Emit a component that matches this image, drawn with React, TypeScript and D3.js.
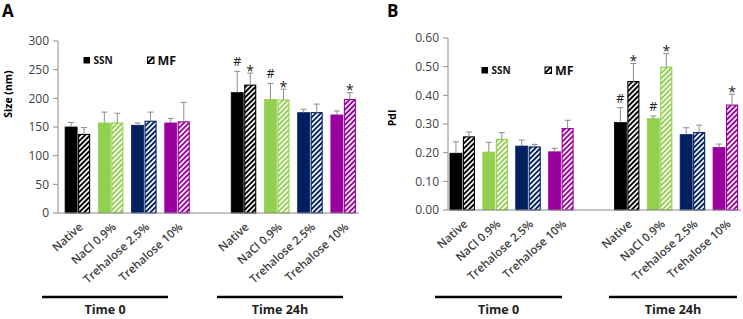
import React from "react";
import * as d3 from "d3";

const categories = ["Native", "NaCl 0.9%", "Trehalose 2.5%", "Trehalose 10%"];
const times = ["Time 0", "Time 24h"];
const colors = ["#000000", "#92D050", "#002060", "#9A009E"];

const sizeSSN = [150, 157, 153, 157, 210, 198, 175, 171];
const sizeSSNErr = [8, 19, 4, 8, 37, 28, 6, 7];
const sizeMF = [137, 157, 160, 159, 223, 197, 175, 198];
const sizeMFErr = [12, 17, 16, 34, 21, 19, 15, 12];
const sizeSSNMarks = ["", "", "", "", "#", "#", "", ""];
const sizeMFMarks = ["", "", "", "", "*", "*", "", "*"];
const sizeTicks = [0, 50, 100, 150, 200, 250, 300];

const pdiSSN = [0.198, 0.202, 0.223, 0.203, 0.305, 0.319, 0.263, 0.218];
const pdiSSNErr = [0.04, 0.034, 0.021, 0.012, 0.052, 0.009, 0.024, 0.012];
const pdiMF = [0.255, 0.246, 0.22, 0.284, 0.448, 0.498, 0.27, 0.366];
const pdiMFErr = [0.017, 0.024, 0.009, 0.029, 0.063, 0.047, 0.026, 0.038];
const pdiSSNMarks = ["", "", "", "", "#", "#", "", ""];
const pdiMFMarks = ["", "", "", "", "*", "*", "", "*"];
const pdiTicks = [0, 0.1, 0.2, 0.3, 0.4, 0.5, 0.6];

const FONT = "'Open Sans', 'Liberation Sans', sans-serif";
const TXT = "#404040";
const AXIS = "#8c8c8c";

type PanelProps = {
  id: string;
  letter: string;
  letterX: number;
  ylabel: string;
  ylabelX: number;
  ylabelY: number;
  axisX: number;
  bandStart: number;
  bandEnd: number;
  axisEnd: number;
  yTop: number;
  yBottom: number;
  ticks: number[];
  fmt: (v: number) => string;
  ssn: number[];
  ssnErr: number[];
  mf: number[];
  mfErr: number[];
  ssnMarks: string[];
  mfMarks: string[];
  legendX: number;
  legendMFX: number;
  legendY: number;
  lines: [number, number][];
};

function Panel(p: PanelProps) {
  const slots = d3.range(9).map(String);
  const x = d3.scaleBand<string>().domain(slots).range([p.bandStart, p.bandEnd]).padding(0);
  const y = d3
    .scaleLinear()
    .domain([p.ticks[0], p.ticks[p.ticks.length - 1]])
    .range([p.yBottom, p.yTop]);
  const slotOf = (i: number) => String(i < 4 ? i : i + 1);
  const bw = 12;
  const items = d3.range(8);
  return (
    <g>
      <text x={p.letterX} y={17} fontFamily={FONT} fontWeight={700} fontSize={17} fill="#000">
        {p.letter}
      </text>
      <text
        transform={`translate(${p.ylabelX},${p.ylabelY}) rotate(-90)`}
        textAnchor="middle"
        fontFamily={FONT}
        fontWeight={700}
        fontSize={10.5}
        fill="#000"
      >
        {p.ylabel}
      </text>
      {/* y axis */}
      <line x1={p.axisX} x2={p.axisX} y1={p.yTop} y2={p.yBottom} stroke={AXIS} strokeWidth={1} />
      {p.ticks.map((t) => (
        <g key={t}>
          <line x1={p.axisX - 5} x2={p.axisX} y1={y(t)} y2={y(t)} stroke={AXIS} strokeWidth={1} />
          <text
            x={p.axisX - 9}
            y={y(t)}
            dy="0.36em"
            textAnchor="end"
            fontFamily={FONT}
            fontSize={12}
            fill={TXT}
          >
            {p.fmt(t)}
          </text>
        </g>
      ))}
      {/* bars */}
      {items.map((i) => {
        const c = x(slotOf(i))! + x.bandwidth() / 2;
        const col = colors[i % 4];
        const x1 = c - bw - 0.5;
        const x2 = c + 0.5;
        const ySSN = y(p.ssn[i]);
        const yMF = y(p.mf[i]);
        const eSSN = y(p.ssn[i] + p.ssnErr[i]);
        const eMF = y(p.mf[i] + p.mfErr[i]);
        return (
          <g key={i}>
            <rect x={x1} y={ySSN} width={bw} height={p.yBottom - ySSN} fill={col} stroke={col} strokeWidth={0.8} />
            <rect
              x={x2 + 0.5}
              y={yMF}
              width={bw - 1}
              height={p.yBottom - yMF}
              fill={`url(#${p.id}-hatch-${i % 4})`}
              stroke={col}
              strokeWidth={1.1}
            />
            <line x1={x1 + bw / 2} x2={x1 + bw / 2} y1={ySSN} y2={eSSN} stroke={AXIS} strokeWidth={1} />
            <line x1={x1 + bw / 2 - 3} x2={x1 + bw / 2 + 3} y1={eSSN} y2={eSSN} stroke={AXIS} strokeWidth={1} />
            <line x1={x2 + bw / 2} x2={x2 + bw / 2} y1={yMF} y2={eMF} stroke={AXIS} strokeWidth={1} />
            <line x1={x2 + bw / 2 - 3} x2={x2 + bw / 2 + 3} y1={eMF} y2={eMF} stroke={AXIS} strokeWidth={1} />
            {p.ssnMarks[i] && (
              <text x={x1 + bw / 2} y={eSSN - 5} textAnchor="middle" fontFamily={FONT} fontSize={12.5} fill="#222">
                {p.ssnMarks[i]}
              </text>
            )}
            {p.mfMarks[i] && (
              <text x={x2 + bw / 2} y={eMF + 2.5} textAnchor="middle" fontFamily={FONT} fontSize={14} fill="#222">
                {p.mfMarks[i]}
              </text>
            )}
          </g>
        );
      })}
      {/* baseline */}
      <line x1={p.axisX} x2={p.axisEnd} y1={p.yBottom} y2={p.yBottom} stroke={AXIS} strokeWidth={1} />
      {/* category labels */}
      {items.map((i) => {
        const c = x(slotOf(i))! + x.bandwidth() / 2;
        return (
          <text
            key={i}
            transform={`translate(${c + 6},${p.yBottom + 15}) rotate(-42)`}
            textAnchor="end"
            fontFamily={FONT}
            fontWeight={600}
            fontSize={11.5}
            fill={TXT}
          >
            {categories[i % 4]}
          </text>
        );
      })}
      {/* time group lines */}
      {p.lines.map(([a, b], k) => (
        <g key={k}>
          <line x1={a} x2={b} y1={297} y2={297} stroke="#000" strokeWidth={2.6} />
          <text x={(a + b) / 2} y={314} textAnchor="middle" fontFamily={FONT} fontWeight={700} fontSize={12.5} fill="#222">
            {times[k]}
          </text>
        </g>
      ))}
      {/* legend */}
      <rect x={p.legendX} y={p.legendY - 6} width={6.5} height={6.5} fill="#000" />
      <text x={p.legendX + 10} y={p.legendY + 1} fontFamily={FONT} fontWeight={700} fontSize={10} fill="#111">
        SSN
      </text>
      <rect x={p.legendMFX} y={p.legendY - 6} width={6.5} height={6.5} fill={`url(#${p.id}-legend)`} stroke="#000" strokeWidth={1} />
      <text x={p.legendMFX + 10} y={p.legendY + 1.5} fontFamily={FONT} fontWeight={700} fontSize={12.5} fill="#111">
        MF
      </text>
    </g>
  );
}

function Defs({ id }: { id: string }) {
  return (
    <>
      {colors.map((c, k) => (
        <pattern
          key={k}
          id={`${id}-hatch-${k}`}
          patternUnits="userSpaceOnUse"
          width={3.6}
          height={3.6}
          patternTransform="rotate(45)"
        >
          <rect width={3.6} height={3.6} fill="#fff" />
          <rect width={1.9} height={3.6} fill={c} />
        </pattern>
      ))}
      <pattern id={`${id}-legend`} patternUnits="userSpaceOnUse" width={4} height={4} patternTransform="rotate(45)">
        <rect width={4} height={4} fill="#fff" />
        <rect width={2} height={4} fill="#000" />
      </pattern>
    </>
  );
}

export default function App() {
  return (
    <svg width={743} height={319} style={{ display: "block", position: "absolute", left: 0, top: 0 }}>
      <defs>
        <Defs id="a" />
        <Defs id="b" />
      </defs>
      <rect width={743} height={319} fill="#fff" />
      <Panel
        id="a"
        letter="A"
        letterX={2}
        ylabel="Size (nm)"
        ylabelX={12}
        ylabelY={94}
        axisX={58}
        bandStart={61}
        bandEnd={360}
        axisEnd={359}
        yTop={41}
        yBottom={213}
        ticks={sizeTicks}
        fmt={(v) => d3.format("d")(v)}
        ssn={sizeSSN}
        ssnErr={sizeSSNErr}
        mf={sizeMF}
        mfErr={sizeMFErr}
        ssnMarks={sizeSSNMarks}
        mfMarks={sizeMFMarks}
        legendX={83.5}
        legendMFX={147.5}
        legendY={63}
        lines={[
          [42, 168],
          [217, 343],
        ]}
      />
      <Panel
        id="b"
        letter="B"
        letterX={387}
        ylabel="PdI"
        ylabelX={396}
        ylabelY={118}
        axisX={448}
        bandStart={446}
        bandEnd={742}
        axisEnd={741}
        yTop={38}
        yBottom={210}
        ticks={pdiTicks}
        fmt={(v) => d3.format(".2f")(v)}
        ssn={pdiSSN}
        ssnErr={pdiSSNErr}
        mf={pdiMF}
        mfErr={pdiMFErr}
        ssnMarks={pdiSSNMarks}
        mfMarks={pdiMFMarks}
        legendX={481.5}
        legendMFX={545}
        legendY={73}
        lines={[
          [435, 562],
          [609, 737],
        ]}
      />
    </svg>
  );
}
